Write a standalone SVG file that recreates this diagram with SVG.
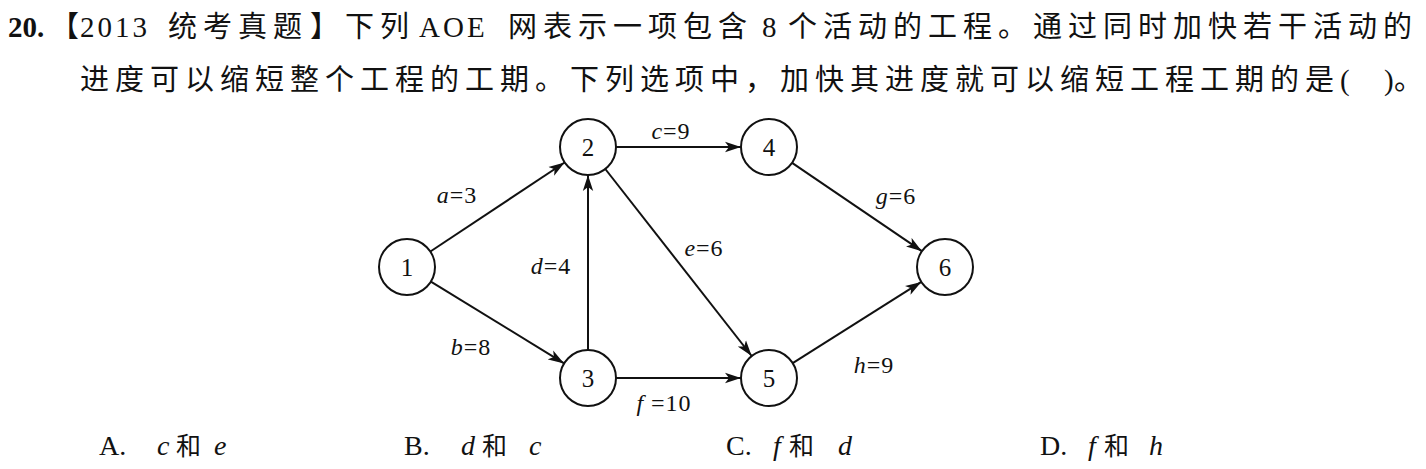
<svg xmlns="http://www.w3.org/2000/svg" width="1426" height="469" viewBox="0 0 1426 469">
<style>
.t{font-family:"Liberation Serif","Noto Sans CJK SC",serif;fill:#111}
.c{font-family:"Noto Sans CJK SC",sans-serif;fill:#111}
.q{font-size:29px}
.s{letter-spacing:6px}
.n{font-size:25px;text-anchor:middle}
.l{font-size:24px;text-anchor:middle;letter-spacing:1px}
.o{font-size:28px}
.i{font-style:italic}
.node circle{fill:#fff;stroke:#111;stroke-width:2}
#edges line{stroke:#111;stroke-width:2}
</style>
<defs>
<marker id="ah" markerUnits="userSpaceOnUse" markerWidth="18" markerHeight="12" refX="16" refY="6" orient="auto">
<path d="M0,0.8 L16,6 L0,11.2 L4,6 Z" fill="#111"/>
</marker>
</defs>
<rect width="1426" height="469" fill="#fff"/>
<g id="title">
<text class="t q" x="8" y="37" font-weight="bold">20.</text>
<text class="c q" x="50" y="37">【</text>
<text class="t q" x="80" y="37" letter-spacing="3">2013</text>
<text class="c q s" x="168" y="37">统考真题</text>
<text class="c q" x="310" y="37">】</text>
<text class="c q s" x="345" y="37">下列</text>
<text class="t q" x="419" y="37" letter-spacing="3">AOE</text>
<text class="c q s" x="508" y="37">网表示一项包含</text>
<text class="t q" x="762" y="37">8</text>
<text class="c q s" x="788" y="37">个活动的工程。通过同时加快若干活动的</text>
<text class="c q s" x="80" y="90">进度可以缩短整个工程的工期。下列选项中，加快其进度就可以缩短工程工期的是</text>
<text class="t q" x="1340" y="90">(</text>
<text class="t q" x="1384" y="90">)</text>
<text class="c q" x="1394" y="90">。</text>
</g>
<g id="edges">
<line x1="430.4" y1="251.5" x2="564.6" y2="162.5" marker-end="url(#ah)"/>
<line x1="430.9" y1="281.6" x2="564.1" y2="363.4" marker-end="url(#ah)"/>
<line x1="588" y1="350" x2="588" y2="175" marker-end="url(#ah)"/>
<line x1="616" y1="147" x2="741" y2="147" marker-end="url(#ah)"/>
<line x1="616" y1="378" x2="741" y2="378" marker-end="url(#ah)"/>
<line x1="605.3" y1="169" x2="751.7" y2="356" marker-end="url(#ah)"/>
<line x1="792.1" y1="162.8" x2="921.9" y2="251.2" marker-end="url(#ah)"/>
<line x1="792.7" y1="363.1" x2="921.3" y2="281.9" marker-end="url(#ah)"/>
<text class="t l" x="457" y="203"><tspan class="i">a</tspan>=3</text>
<text class="t l" x="471" y="355"><tspan class="i">b</tspan>=8</text>
<text class="t l" x="671" y="139"><tspan class="i">c</tspan>=9</text>
<text class="t l" x="551" y="274"><tspan class="i">d</tspan>=4</text>
<text class="t l" x="704" y="256"><tspan class="i">e</tspan>=6</text>
<text class="t l" x="664" y="411"><tspan class="i">f</tspan> =10</text>
<text class="t l" x="896" y="204"><tspan class="i">g</tspan>=6</text>
<text class="t l" x="874" y="373"><tspan class="i">h</tspan>=9</text>
</g>
<g id="n1" class="node"><circle cx="407" cy="267" r="28"/><text class="t n" x="407" y="276">1</text></g>
<g id="n2" class="node"><circle cx="588" cy="147" r="28"/><text class="t n" x="588" y="156">2</text></g>
<g id="n3" class="node"><circle cx="588" cy="378" r="28"/><text class="t n" x="588" y="387">3</text></g>
<g id="n4" class="node"><circle cx="769" cy="147" r="28"/><text class="t n" x="769" y="156">4</text></g>
<g id="n5" class="node"><circle cx="769" cy="378" r="28"/><text class="t n" x="769" y="387">5</text></g>
<g id="n6" class="node"><circle cx="945" cy="267" r="28"/><text class="t n" x="945" y="276">6</text></g>
<g id="options">
<text class="t o" y="455"><tspan x="99">A.</tspan><tspan class="i" x="157">c</tspan><tspan x="176" font-size="25">和</tspan><tspan class="i" x="214">e</tspan></text>
<text class="t o" y="455"><tspan x="404">B.</tspan><tspan class="i" x="461">d</tspan><tspan x="482" font-size="25">和</tspan><tspan class="i" x="529">c</tspan></text>
<text class="t o" y="455"><tspan x="726">C.</tspan><tspan class="i" x="773">f</tspan><tspan x="789" font-size="25">和</tspan><tspan class="i" x="838">d</tspan></text>
<text class="t o" y="455"><tspan x="1040">D.</tspan><tspan class="i" x="1088">f</tspan><tspan x="1104" font-size="25">和</tspan><tspan class="i" x="1149">h</tspan></text>
</g>
</svg>
